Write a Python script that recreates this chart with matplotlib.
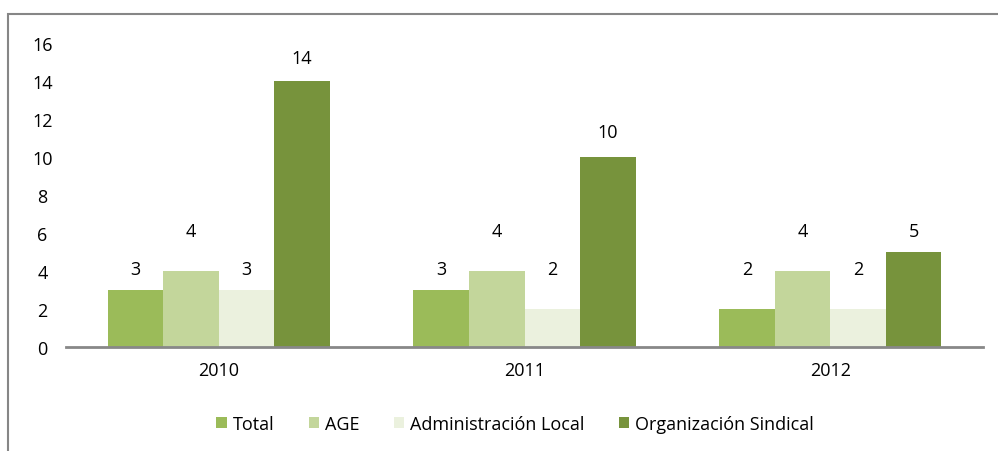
import matplotlib
matplotlib.use("Agg")
import matplotlib.pyplot as plt
from matplotlib.patches import Rectangle
import numpy as np

years = ['2010', '2011', '2012']
series = ['Total', 'AGE', 'Administración Local', 'Organización Sindical']
total = [3, 3, 2]
age = [4, 4, 4]
admin_local = [3, 2, 2]
org_sindical = [14, 10, 5]
# where Excel put each value label (data units)
label_y = [
    [4.1, 4.1, 4.1],
    [6.1, 6.1, 6.1],
    [4.1, 4.1, 4.1],
    [15.2, 11.3, 6.1],
]

colors = ['#9BBB59', '#C3D69B', '#EBF1DE', '#77933C']
plt.rcParams['font.family'] = ['Open Sans', 'DejaVu Sans']
fs = 13

fig = plt.figure(figsize=(9.98, 4.52), dpi=100)
ax = fig.add_axes([66 / 998, 104 / 452, 917 / 998, 304 / 452])

# chart border
fig.patches.append(Rectangle((8 / 998, -0.1), 1.2, 0.1 + 437 / 452, transform=fig.transFigure,
                             fill=False, edgecolor='#868686', linewidth=1.5, zorder=0))

x = np.arange(len(years))
w = 0.1817
values = [total, age, admin_local, org_sindical]
for i, vals in enumerate(values):
    pos = x + (i - 1.5) * w
    ax.bar(pos, vals, w, color=colors[i], label=series[i], zorder=2)
    for p, v, ly in zip(pos, vals, label_y[i]):
        ax.text(p, ly, str(v), ha='center', va='center', fontsize=fs, color='black')

ax.set_xlim(-0.5, len(years) - 0.5)
ax.set_ylim(0, 16)
ax.set_yticks(range(0, 17, 2))
ax.set_xticks(x)
ax.set_xticklabels(years)
ax.tick_params(axis='both', length=0, labelsize=fs)
ax.tick_params(axis='y', pad=17)
ax.tick_params(axis='x', pad=10)
for s in ['top', 'right', 'left']:
    ax.spines[s].set_visible(False)
ax.spines['bottom'].set_color('#888888')
ax.spines['bottom'].set_linewidth(2)
ax.spines['bottom'].set_zorder(3)
for lbl in ax.get_yticklabels():
    lbl.set_horizontalalignment('center')
ax.patch.set_alpha(0)

fig.legend(loc='center', bbox_to_anchor=(515 / 998, 1 - 425 / 452), ncol=4, frameon=False,
           fontsize=fs, handlelength=0.6, handleheight=0.6, handletextpad=0.3, columnspacing=1.9)

fig.savefig('out.png', dpi=100)
